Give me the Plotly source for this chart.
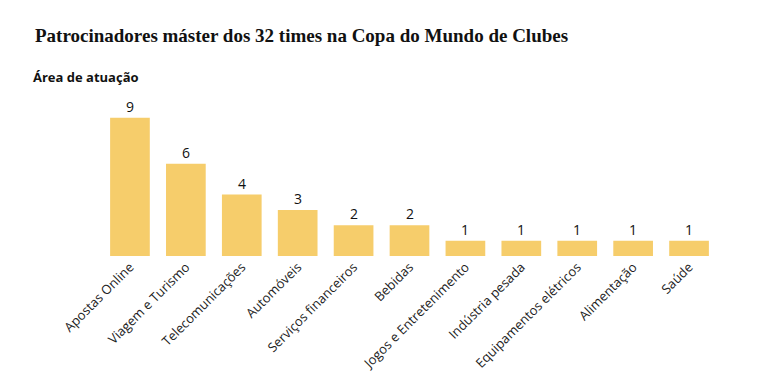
import plotly.graph_objects as go

categories = ["Apostas Online", "Viagem e Turismo", "Telecomunicações", "Automóveis",
              "Serviços financeiros", "Bebidas", "Jogos e Entretenimento", "Indústria pesada",
              "Equipamentos elétricos", "Alimentação", "Saúde"]
values = [9, 6, 4, 3, 2, 2, 1, 1, 1, 1, 1]

L, R, T, B = 94, 59, 99, 134
PW, PH = 768 - L - R, 382 - T - B

fig = go.Figure()
fig.add_trace(go.Bar(
    x=categories, y=values,
    marker=dict(color="#F6CD6B", line=dict(width=0)),
    hoverinfo="x+y",
))

value_labels = [
    dict(x=c, y=v, xref="x", yref="y", text=str(v), showarrow=False,
         yanchor="bottom", yshift=0,
         font=dict(family="Open Sans", size=14, color="#111"))
    for c, v in zip(categories, values)
]

fig.update_layout(
    width=768, height=382,
    margin=dict(l=L, r=R, t=T, b=B),
    paper_bgcolor="white", plot_bgcolor="white",
    bargap=0.29,
    showlegend=False,
    xaxis=dict(tickangle=-45, tickfont=dict(family="Open Sans", size=13, color="#222"),
               range=[-0.5, len(categories) - 0.5],
               showgrid=False, showline=False, ticks="", automargin=False),
    yaxis=dict(range=[0, 9.7], visible=False),
    annotations=value_labels + [
        dict(text="<b>Patrocinadores máster dos 32 times na Copa do Mundo de Clubes</b>",
             xref="paper", yref="paper", x=-(L - 25) / PW, y=1 + (T - 15) / PH,
             xanchor="left", yanchor="top",
             font=dict(family="Liberation Serif", size=19, color="#111"), showarrow=False),
        dict(text="<b>Área de atuação</b>",
             xref="paper", yref="paper", x=-(L - 23) / PW, y=1 + (T - 58) / PH,
             xanchor="left", yanchor="top",
             font=dict(family="Open Sans", size=13, color="#111"), showarrow=False),
    ],
)

fig.write_html("out.html")
